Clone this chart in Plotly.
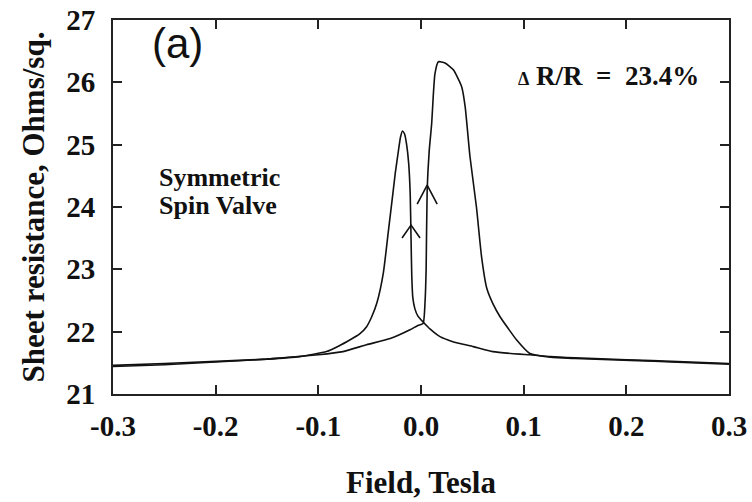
import plotly.graph_objects as go

# Sheet resistance of a symmetric spin valve vs applied field (hysteresis loop)
# Branch swept from positive to negative field
field_down = [0.30, 0.25, 0.20, 0.15, 0.126, 0.106, 0.096, 0.070, 0.051, 0.031,
              0.0185, 0.009, 0.003, -0.003, -0.006, -0.008, -0.009, -0.0097,
              -0.0105, -0.012, -0.014, -0.016, -0.018, -0.020, -0.022, -0.025,
              -0.027, -0.032, -0.0367, -0.043, -0.048, -0.053, -0.060, -0.069,
              -0.080, -0.092, -0.118, -0.15, -0.205, -0.25, -0.30]
res_down = [21.49, 21.52, 21.55, 21.58, 21.60, 21.63, 21.64, 21.68, 21.76, 21.84,
            21.92, 22.04, 22.14, 22.25, 22.37, 22.55, 22.90, 23.50,
            24.20, 24.70, 25.00, 25.17, 25.22, 25.12, 24.90, 24.55,
            24.27, 23.58, 22.94, 22.46, 22.24, 22.08, 21.96, 21.87,
            21.77, 21.68, 21.60, 21.56, 21.52, 21.49, 21.46]

# Branch swept from negative to positive field
field_up = [-0.30, -0.25, -0.205, -0.15, -0.10, -0.076, -0.053, -0.030, -0.0107,
            -0.003, 0.002, 0.004, 0.005, 0.006, 0.008, 0.0104, 0.012, 0.0136,
            0.0169, 0.0234, 0.0315, 0.0396, 0.043, 0.0477, 0.054, 0.059, 0.064,
            0.070, 0.077, 0.085, 0.093, 0.106, 0.126, 0.15, 0.204, 0.25, 0.30]
res_up = [21.44, 21.47, 21.51, 21.56, 21.63, 21.68, 21.79, 21.89, 22.03,
          22.10, 22.13, 22.50, 23.00, 24.27, 24.90, 25.34, 25.80, 26.14,
          26.33, 26.31, 26.20, 25.93, 25.61, 24.81, 24.00, 23.20, 22.70,
          22.45, 22.24, 22.05, 21.87, 21.65, 21.59, 21.57, 21.54, 21.51, 21.48]

# Sweep-direction arrow tips (field, resistance)
arrow_field = [-0.0097, 0.006]
arrow_res = [23.71, 24.35]

x_ticks = [-0.3, -0.2, -0.1, 0.0, 0.1, 0.2, 0.3]
x_labels = ["-0.3", "-0.2", "-0.1", "0.0", "0.1", "0.2", "0.3"]
y_ticks = [21, 22, 23, 24, 25, 26, 27]
y_labels = ["21", "22", "23", "24", "25", "26", "27"]

X_RANGE = [-0.3, 0.3]
Y_RANGE = [21, 27]
PLOT_W, PLOT_H = 616, 374
px_x = (X_RANGE[1] - X_RANGE[0]) / PLOT_W
px_y = (Y_RANGE[1] - Y_RANGE[0]) / PLOT_H

LINE = dict(color="#111111", width=1.6)
SERIF = "Liberation Serif"

fig = go.Figure()
for fx, ry in [(field_down, res_down), (field_up, res_up)]:
    fig.add_trace(go.Scatter(x=fx, y=ry, mode="lines",
                             line=dict(LINE, shape="spline", smoothing=0.5),
                             hoverinfo="skip", showlegend=False))

# open chevron arrowheads pointing up
for fx, ry, half_w, drop in zip(arrow_field, arrow_res, [9, 10], [13, 19]):
    fig.add_trace(go.Scatter(
        x=[fx - half_w * px_x, fx, fx + half_w * px_x],
        y=[ry - drop * px_y, ry, ry - drop * px_y],
        mode="lines", line=LINE, hoverinfo="skip", showlegend=False))

axis_common = dict(
    showline=True, linecolor="#222222", linewidth=2, mirror="ticks",
    ticks="inside", ticklen=9, tickwidth=1.5, tickcolor="#222222",
    showgrid=False, zeroline=False, automargin=False,
    tickfont=dict(family=SERIF, size=29, color="#111111"),
)

fig.update_xaxes(range=X_RANGE, tickvals=x_ticks,
                 ticktext=["<b>%s</b>" % t for t in x_labels],
                 ticklabelstandoff=5,
                 title=dict(text="<b>Field, Tesla</b>", standoff=31,
                            font=dict(family=SERIF, size=31, color="#111111")),
                 **axis_common)
fig.update_yaxes(range=Y_RANGE, tickvals=y_ticks,
                 ticktext=["<b>%s</b>" % t for t in y_labels],
                 ticklabelstandoff=10,
                 title=dict(text="<b>Sheet resistance, Ohms/sq.</b>", standoff=12,
                            font=dict(family=SERIF, size=31, color="#111111")),
                 **axis_common)

fig.add_annotation(x=0.06, y=1.005, xref="paper", yref="paper", text="(a)",
                   showarrow=False, xanchor="left", yanchor="top",
                   font=dict(family="Liberation Sans", size=42, color="#111111"))

annots = [
    dict(text="<b><span style='font-size:18px'>Δ</span> R/R  =  23.4%</b>",
         x=0.655, y=0.85, size=27),
    dict(text="<b>Symmetric</b>", x=0.072, y=0.578, size=26),
    dict(text="<b>Spin Valve</b>", x=0.072, y=0.503, size=26),
]
for a in annots:
    fig.add_annotation(x=a["x"], y=a["y"], xref="paper", yref="paper",
                       text=a["text"], showarrow=False, xanchor="left",
                       yanchor="middle", align="left",
                       font=dict(family=SERIF, size=a["size"], color="#111111"))

fig.update_layout(
    width=752, height=502,
    margin=dict(l=113, r=23, t=20, b=108),
    paper_bgcolor="white", plot_bgcolor="white",
)

fig.write_html("out.html")
